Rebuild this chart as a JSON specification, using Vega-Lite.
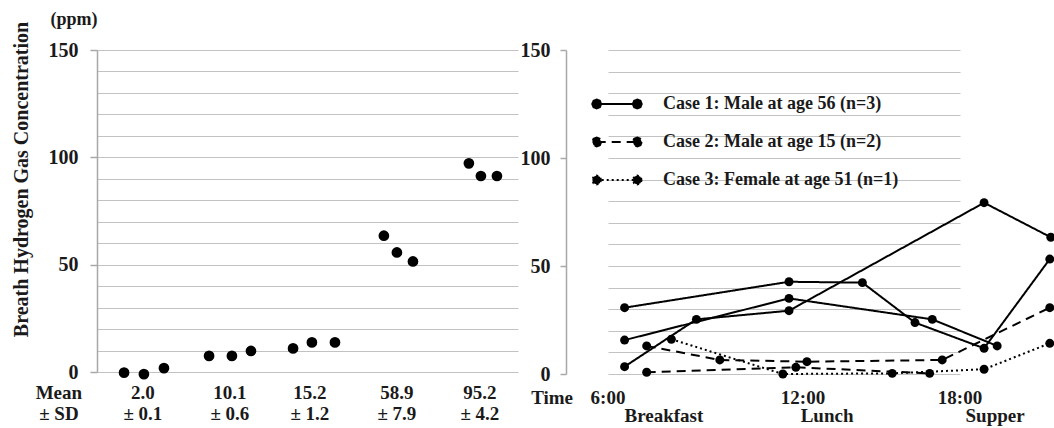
{
  "$schema": "https://vega.github.io/schema/vega-lite/v6.json",
  "padding": {"left": 10, "top": 10, "right": 0, "bottom": 0},
  "spacing": 2,
  "resolve": {"legend": {"strokeDash": "independent"}},
  "datasets": {
    "left": [
      {"order": 1.35, "ppm": -0.3}, {"order": 2.34, "ppm": -1.0}, {"order": 3.34, "ppm": 1.8},
      {"order": 5.59, "ppm": 7.5}, {"order": 6.73, "ppm": 7.5}, {"order": 7.68, "ppm": 9.8},
      {"order": 9.78, "ppm": 11.0}, {"order": 10.72, "ppm": 13.8}, {"order": 11.87, "ppm": 13.8},
      {"order": 14.31, "ppm": 63.5}, {"order": 14.96, "ppm": 55.7}, {"order": 15.76, "ppm": 51.5},
      {"order": 18.55, "ppm": 97.2}, {"order": 19.15, "ppm": 91.3}, {"order": 19.95, "ppm": 91.3}
    ],
    "leftLabels": [
      {"order": -1.9, "label": "Mean\n± SD"},
      {"order": 2.29, "label": "2.0\n± 0.1"},
      {"order": 6.63, "label": "10.1\n± 0.6"},
      {"order": 10.62, "label": "15.2\n± 1.2"},
      {"order": 14.96, "label": "58.9\n± 7.9"},
      {"order": 19.1, "label": "95.2\n± 4.2"}
    ],
    "right": [
      {"subject": "A", "case": "Case 1: Male at age 56 (n=3)", "hour": 6.51, "ppm": 30.7},
      {"subject": "A", "case": "Case 1: Male at age 56 (n=3)", "hour": 11.57, "ppm": 42.7},
      {"subject": "A", "case": "Case 1: Male at age 56 (n=3)", "hour": 14.27, "ppm": 42.3},
      {"subject": "A", "case": "Case 1: Male at age 56 (n=3)", "hour": 16.28, "ppm": 23.8},
      {"subject": "A", "case": "Case 1: Male at age 56 (n=3)", "hour": 18.92, "ppm": 11.9},
      {"subject": "A", "case": "Case 1: Male at age 56 (n=3)", "hour": 21.43, "ppm": 53.2},
      {"subject": "B", "case": "Case 1: Male at age 56 (n=3)", "hour": 6.51, "ppm": 15.7},
      {"subject": "B", "case": "Case 1: Male at age 56 (n=3)", "hour": 11.57, "ppm": 35.0},
      {"subject": "B", "case": "Case 1: Male at age 56 (n=3)", "hour": 16.94, "ppm": 25.3},
      {"subject": "B", "case": "Case 1: Male at age 56 (n=3)", "hour": 19.42, "ppm": 13.0},
      {"subject": "C", "case": "Case 1: Male at age 56 (n=3)", "hour": 6.51, "ppm": 3.4},
      {"subject": "C", "case": "Case 1: Male at age 56 (n=3)", "hour": 8.72, "ppm": 25.3},
      {"subject": "C", "case": "Case 1: Male at age 56 (n=3)", "hour": 11.57, "ppm": 29.3},
      {"subject": "C", "case": "Case 1: Male at age 56 (n=3)", "hour": 18.92, "ppm": 79.3},
      {"subject": "C", "case": "Case 1: Male at age 56 (n=3)", "hour": 21.47, "ppm": 63.3},
      {"subject": "D1", "case": "Case 2: Male at age 15 (n=2)", "hour": 7.19, "ppm": 13.0},
      {"subject": "D1", "case": "Case 2: Male at age 15 (n=2)", "hour": 9.44, "ppm": 6.5},
      {"subject": "D1", "case": "Case 2: Male at age 15 (n=2)", "hour": 12.15, "ppm": 5.7},
      {"subject": "D1", "case": "Case 2: Male at age 15 (n=2)", "hour": 17.32, "ppm": 6.5},
      {"subject": "D1", "case": "Case 2: Male at age 15 (n=2)", "hour": 21.43, "ppm": 30.7},
      {"subject": "D2", "case": "Case 2: Male at age 15 (n=2)", "hour": 7.19, "ppm": 0.8},
      {"subject": "D2", "case": "Case 2: Male at age 15 (n=2)", "hour": 11.78, "ppm": 3.1},
      {"subject": "D2", "case": "Case 2: Male at age 15 (n=2)", "hour": 16.84, "ppm": 0.3},
      {"subject": "E", "case": "Case 3: Female at age 51 (n=1)", "hour": 7.95, "ppm": 16.1},
      {"subject": "E", "case": "Case 3: Female at age 51 (n=1)", "hour": 11.38, "ppm": 0.0},
      {"subject": "E", "case": "Case 3: Female at age 51 (n=1)", "hour": 15.41, "ppm": 0.3},
      {"subject": "E", "case": "Case 3: Female at age 51 (n=1)", "hour": 18.92, "ppm": 2.2},
      {"subject": "E", "case": "Case 3: Female at age 51 (n=1)", "hour": 21.43, "ppm": 14.2}
    ],
    "clock": [
      {"hour": 4.28, "label": "Time"},
      {"hour": 6, "label": "6:00"},
      {"hour": 12, "label": "12:00"},
      {"hour": 18, "label": "18:00"}
    ],
    "meals": [
      {"hour": 7.72, "label": "Breakfast"},
      {"hour": 12.92, "label": "Lunch"},
      {"hour": 19.34, "label": "Supper"}
    ]
  },
  "hconcat": [
    {
      "width": 421,
      "height": 322,
      "resolve": {"axis": {"y": "independent"}},
      "layer": [
        {
          "data": {"name": "left"},
          "mark": {"type": "point", "filled": true, "color": "#000000", "opacity": 0, "size": 115},
          "encoding": {
            "x": {"field": "order", "type": "quantitative", "scale": {"domain": [0, 21], "nice": false, "zero": false}, "axis": null},
            "y": {
              "field": "ppm", "type": "quantitative",
              "scale": {"domain": [0, 150], "nice": false},
              "axis": {
                "orient": "left",
                "values": [0, 10, 20, 30, 40, 50, 60, 70, 80, 90, 100, 110, 120, 130, 140, 150],
                "grid": true,
                "labels": false,
                "ticks": false,
                "domain": false,
                "title": null
              }
            }
          }
        },
        {
          "data": {"name": "left"},
          "mark": {"type": "point", "filled": true, "color": "#000000", "opacity": 1, "size": 115},
          "encoding": {
            "x": {"field": "order", "type": "quantitative"},
            "y": {
              "field": "ppm", "type": "quantitative",
              "axis": {
                "orient": "left",
                "values": [0, 50, 100, 150],
                "grid": false,
                "tickSize": 7,
                "labelPadding": 12,
                "title": "Breath Hydrogen Gas Concentration",
                "titleX": -66,
                "titleY": 129
              }
            }
          }
        },
        {
          "data": {"name": "leftLabels"},
          "mark": {"type": "text", "baseline": "top", "align": "center", "dy": 12, "lineBreak": "\n", "lineHeight": 21, "fontSize": 19, "fontWeight": "bold", "font": "Liberation Serif", "color": "#1a1a1a"},
          "encoding": {
            "x": {"field": "order", "type": "quantitative"},
            "y": {"datum": 0, "type": "quantitative", "axis": null},
            "text": {"field": "label"}
          }
        },
        {
          "data": {"values": [{"label": "(ppm)"}]},
          "mark": {"type": "text", "baseline": "middle", "align": "center", "fontSize": 18, "fontWeight": "bold", "font": "Liberation Serif", "color": "#1a1a1a"},
          "encoding": {
            "x": {"datum": -1.15, "type": "quantitative"},
            "y": {"datum": 164, "type": "quantitative", "axis": null},
            "text": {"field": "label"}
          }
        }
      ]
    },
    {
      "width": 486,
      "height": 324,
      "resolve": {"axis": {"y": "independent"}},
      "layer": [
        {
          "data": {"name": "right"},
          "mark": {"type": "line", "color": "#000000", "strokeWidth": 2},
          "encoding": {
            "x": {"field": "hour", "type": "quantitative", "scale": {"domain": [6, 12, 18], "range": [42, 237, 394], "nice": false, "zero": false}, "axis": null},
            "y": {
              "field": "ppm", "type": "quantitative",
              "scale": {"domain": [0, 150], "nice": false},
              "axis": {
                "orient": "left",
                "values": [0, 10, 20, 30, 40, 50, 60, 70, 80, 90, 100, 110, 120, 130, 140, 150],
                "grid": true,
                "labels": false,
                "ticks": false,
                "domain": false,
                "title": null
              }
            },
            "detail": {"field": "subject"},
            "strokeDash": {
              "field": "case", "type": "nominal",
              "scale": {
                "domain": ["Case 1: Male at age 56 (n=3)", "Case 2: Male at age 15 (n=2)", "Case 3: Female at age 51 (n=1)"],
                "range": [[1, 0], [9, 6], [2, 3]]
              },
              "legend": {
                "title": null,
                "orient": "none",
                "legendX": 25,
                "legendY": 35,
                "padding": 0,
                "symbolType": "M -0.64 0 L -0.693 0.127 L -0.82 0.18 L -0.947 0.127 L -1 0 L -0.947 -0.127 L -0.82 -0.18 L -0.693 -0.127 Z M 1 0 L 0.947 0.127 L 0.82 0.18 L 0.693 0.127 L 0.64 0 L 0.693 -0.127 L 0.82 -0.18 L 0.947 -0.127 Z M -0.82 0 L 0.82 0",
                "symbolSize": 2450,
                "symbolStrokeWidth": 2,
                "symbolStrokeColor": "#000000",
                "symbolFillColor": "#000000",
                "labelFont": "Liberation Serif",
                "labelFontSize": 18,
                "labelFontWeight": "bold",
                "labelColor": "#1a1a1a",
                "labelOffset": 20,
                "labelLimit": 400,
                "clipHeight": 38,
                "rowPadding": 0
              }
            }
          }
        },
        {
          "data": {"name": "right"},
          "mark": {"type": "point", "filled": true, "color": "#000000", "opacity": 1, "size": 80},
          "encoding": {
            "x": {"field": "hour", "type": "quantitative"},
            "y": {
              "field": "ppm", "type": "quantitative",
              "axis": {
                "orient": "left",
                "values": [0, 50, 100, 150],
                "grid": false,
                "tickSize": 6,
                "labelPadding": 10,
                "title": null
              }
            }
          }
        },
        {
          "data": {"name": "clock"},
          "mark": {"type": "text", "baseline": "top", "align": "center", "dy": 15, "fontSize": 19, "fontWeight": "bold", "font": "Liberation Serif", "color": "#1a1a1a"},
          "encoding": {
            "x": {"field": "hour", "type": "quantitative"},
            "y": {"datum": 0, "type": "quantitative", "axis": null},
            "text": {"field": "label"}
          }
        },
        {
          "data": {"name": "meals"},
          "mark": {"type": "text", "baseline": "top", "align": "center", "dy": 33, "fontSize": 19, "fontWeight": "bold", "font": "Liberation Serif", "color": "#1a1a1a"},
          "encoding": {
            "x": {"field": "hour", "type": "quantitative"},
            "y": {"datum": 0, "type": "quantitative", "axis": null},
            "text": {"field": "label"}
          }
        }
      ]
    }
  ],
  "config": {
    "view": {"stroke": null},
    "font": "Liberation Serif",
    "axis": {
      "gridColor": "#c2c2c2",
      "gridWidth": 1.2,
      "domainColor": "#a8a8a8",
      "domainWidth": 1.5,
      "tickColor": "#a8a8a8",
      "tickWidth": 1.5,
      "labelFont": "Liberation Serif",
      "labelFontSize": 20,
      "labelFontWeight": "bold",
      "labelColor": "#1a1a1a",
      "labelOverlap": false,
      "titleFont": "Liberation Serif",
      "titleFontSize": 20,
      "titleFontWeight": "bold",
      "titleColor": "#1a1a1a"
    }
  }
}
